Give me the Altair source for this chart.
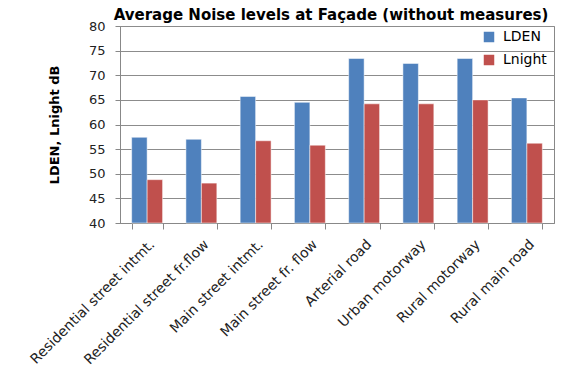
import altair as alt
import pandas as pd

categories = ["Residential street intmt.", "Residential street fr.flow",
              "Main street intmt.", "Main street fr. flow", "Arterial road",
              "Urban motorway", "Rural motorway", "Rural main road"]
lden = [57.4, 57.0, 65.7, 64.5, 73.4, 72.4, 73.4, 65.4]
lnight = [48.8, 48.1, 56.7, 55.8, 64.2, 64.2, 65.0, 56.2]
series = ["LDEN", "Lnight"]
colors = ["#4F81BD", "#C0504D"]

rows = []
for c, a, b in zip(categories, lden, lnight):
    rows.append({"cat": c, "series": "LDEN", "value": a})
    rows.append({"cat": c, "series": "Lnight", "value": b})
df = pd.DataFrame(rows)

font = "DejaVu Sans"

chart = alt.Chart(df).mark_bar(stroke="white", strokeWidth=0.5).encode(
    x=alt.X("cat:N", sort=categories, title=None,
            scale=alt.Scale(paddingInner=0.43, paddingOuter=0.215),
            axis=alt.Axis(labelAngle=-45, labelFontSize=14, labelColor="#222222",
                          labelFont=font, tickBand="extent", tickSize=6,
                          tickColor="#888888", domainColor="#888888",
                          labelPadding=8, labelLimit=300)),
    xOffset=alt.XOffset("series:N", sort=series),
    y=alt.Y("value:Q", title="LDEN, Lnight dB",
            scale=alt.Scale(domain=[40, 80], nice=False, zero=False),
            axis=alt.Axis(values=list(range(40, 81, 5)), labelFontSize=13,
                          labelColor="#222222", labelFont=font,
                          titleFont=font, titleFontSize=13, titleFontWeight="bold",
                          titleColor="#000000", titlePadding=27,
                          tickSize=5, tickColor="#888888", domainColor="#888888",
                          gridColor="#8c8c8c", labelPadding=10)),
    y2=alt.Y2(datum=40),
    color=alt.Color("series:N", sort=series,
                    scale=alt.Scale(domain=series, range=colors),
                    legend=alt.Legend(title=None, orient="none", legendX=362, legendY=4,
                                      symbolType="square", symbolSize=110,
                                      symbolStrokeWidth=0, labelFontSize=14,
                                      labelFont=font, labelColor="#000000",
                                      rowPadding=9, labelOffset=7)),
).properties(
    width=434, height=197,
    title=alt.TitleParams("Average Noise levels at Façade (without measures)",
                          font=font, fontSize=15, fontWeight="bold", color="#000000",
                          anchor="middle", dx=-6, offset=-3),
    autosize=alt.AutoSizeParams(type="none"),
    padding={"left": 120, "top": 26, "right": 8, "bottom": 149},
).configure_view(stroke="#888888", strokeWidth=1)

chart.save("out.html", embed_options={"renderer": "svg", "actions": False})
